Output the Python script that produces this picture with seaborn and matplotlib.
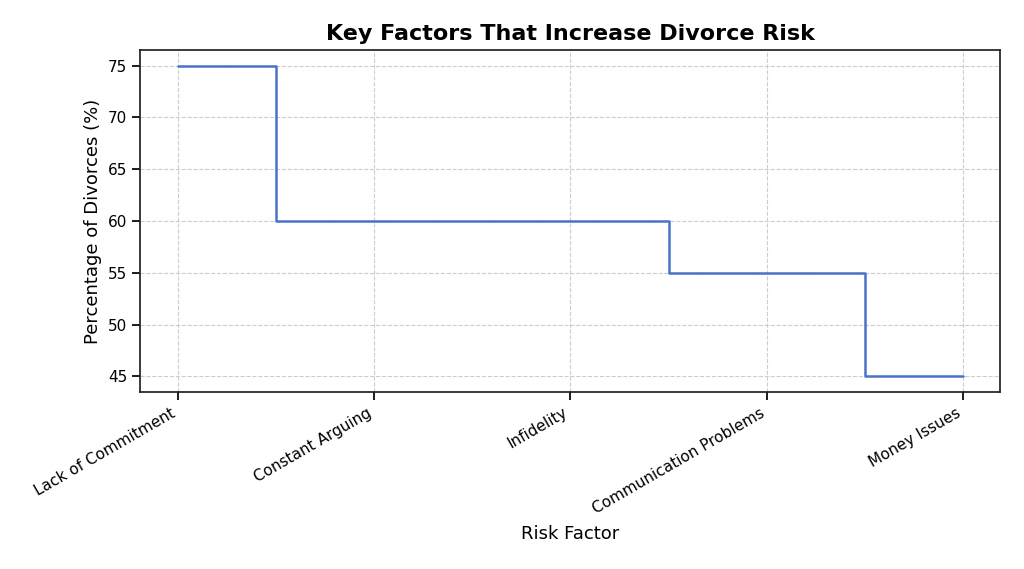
import matplotlib
matplotlib.use("Agg")
import matplotlib.pyplot as plt
import seaborn as sns
import pandas as pd

factors = ["Lack of Commitment", "Constant Arguing", "Infidelity",
           "Communication Problems", "Money Issues"]
percentages = [75, 60, 60, 55, 45]

sns.set_theme(style="ticks")
plt.rcParams['font.family'] = ['DejaVu Sans']
plt.rcParams['text.color'] = 'black'
plt.rcParams['axes.labelcolor'] = 'black'
plt.rcParams['xtick.color'] = 'black'
plt.rcParams['ytick.color'] = 'black'

df = pd.DataFrame({"pos": range(len(factors)), "pct": percentages})

fig, ax = plt.subplots(figsize=(10.24, 5.69), dpi=100)
fig.subplots_adjust(left=0.137, right=0.977, top=0.912, bottom=0.311)

sns.lineplot(data=df, x="pos", y="pct", ax=ax, drawstyle="steps-mid",
             color="#4a72c8", linewidth=1.8)

ax.set_xticks(df["pos"])
ax.set_xticklabels(factors, rotation=30, ha="right", fontsize=11)
ax.set_yticks([45, 50, 55, 60, 65, 70, 75])
ax.tick_params(axis="y", labelsize=11)
ax.set_xlim(-0.19, 4.19)
ax.set_ylim(43.5, 76.5)
ax.grid(True, linestyle="--", color="#cccccc", linewidth=0.8)
for s in ax.spines.values():
    s.set_visible(True)
    s.set_color("#222222")
ax.set_title("Key Factors That Increase Divorce Risk", fontsize=16, fontweight="bold", pad=7)
ax.set_xlabel("Risk Factor", fontsize=13, labelpad=6)
ax.set_ylabel("Percentage of Divorces (%)", fontsize=13)

fig.savefig("out.png", dpi=100)
